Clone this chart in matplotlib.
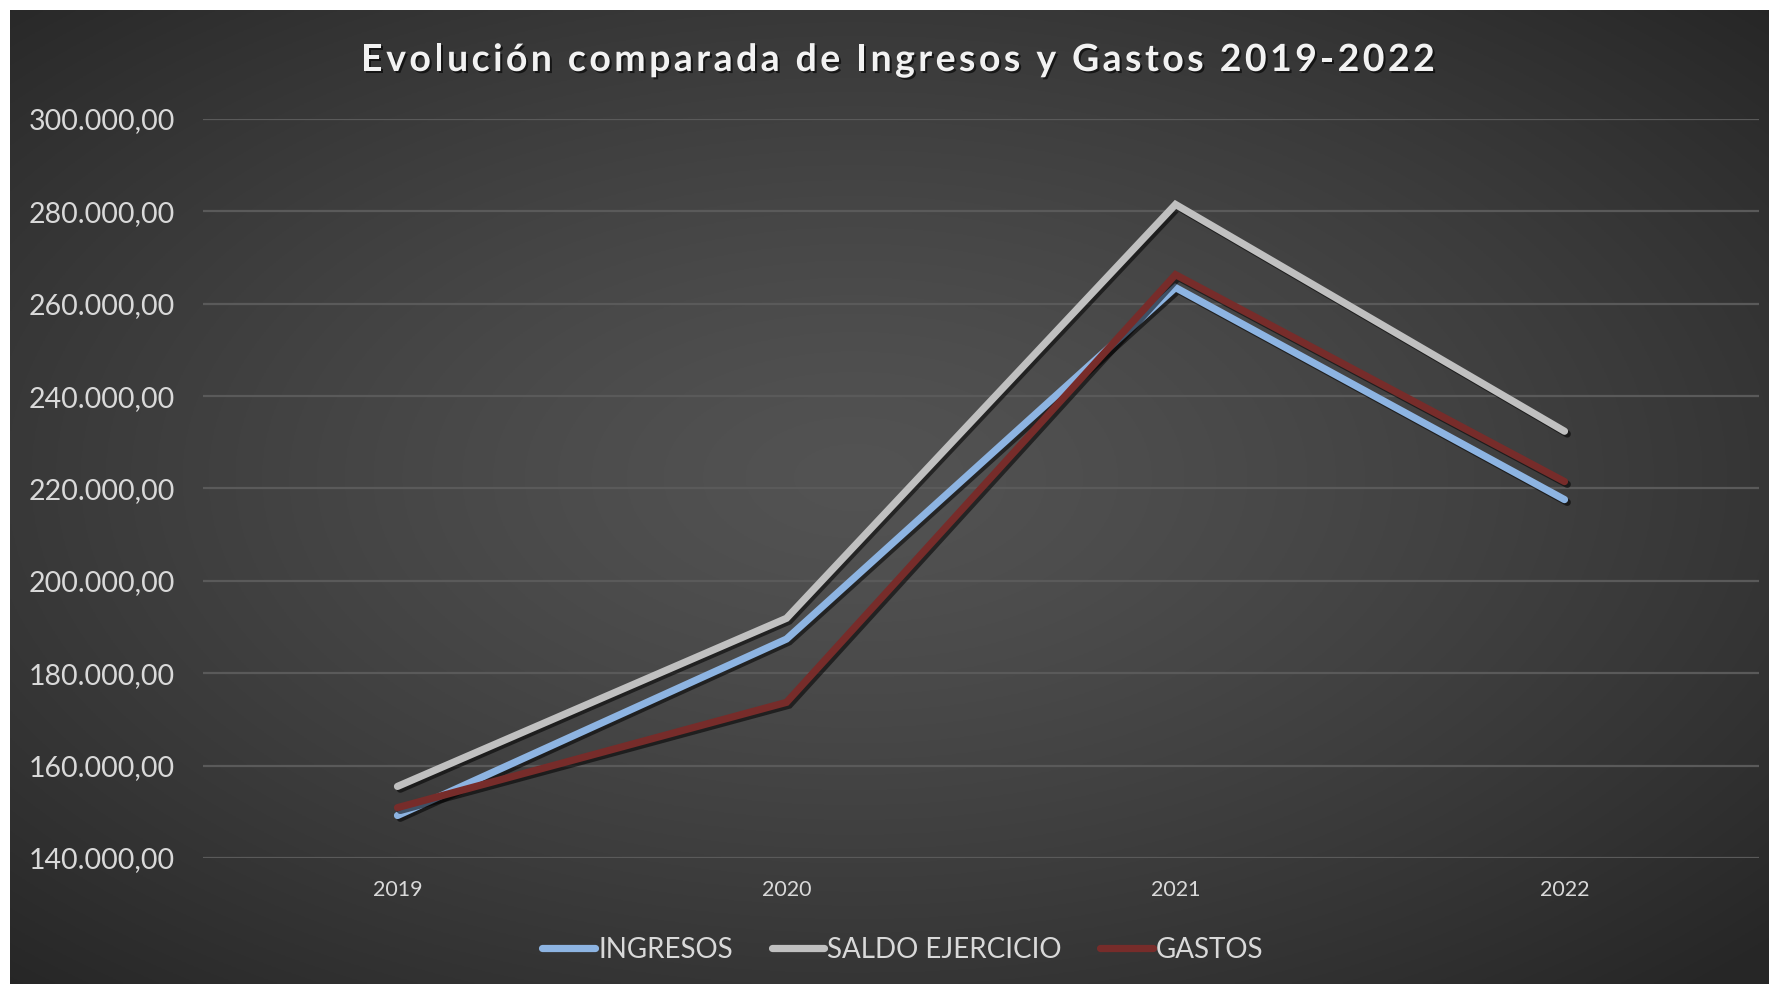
import numpy as np
import matplotlib
matplotlib.use("Agg")
import matplotlib.pyplot as plt
import matplotlib.patheffects as pe
from matplotlib.ticker import FuncFormatter

# datos
years = ["2019", "2020", "2021", "2022"]
ingresos = [149200, 187400, 263500, 217600]
saldo_ejercicio = [155500, 191900, 281500, 232400]
gastos = [150900, 173700, 266300, 221500]
titulo = "Evolución comparada de Ingresos y Gastos 2019-2022"

plt.rcParams['font.family'] = ['Lato', 'DejaVu Sans']

W, H = 1769, 984
fig = plt.figure(figsize=(W / 100, H / 100), dpi=100)
fig.patch.set_facecolor("white")

# fondo con degradado radial (borde blanco arriba e izquierda)
bg = fig.add_axes([10 / W, 0, 1 - 10 / W, 1 - 10 / H])
yy, xx = np.mgrid[0:1:400j, 0:1:700j]
r = np.sqrt(((xx - 0.48) / 0.75) ** 2 + ((yy - 0.52) / 0.75) ** 2)
r = np.clip(r / 0.95, 0, 1)
g = 0.325 - (0.325 - 0.15) * r ** 1.3
img = np.dstack([g, g, g])
bg.imshow(img, aspect="auto", extent=[0, 1, 0, 1], origin="lower")
bg.set_axis_off()

ax = fig.add_axes([203 / W, 1 - 858 / H, (1759 - 203) / W, (858 - 119) / H])
ax.set_facecolor("none")

x = np.arange(len(years))
shadow = [pe.SimpleLineShadow(offset=(2, -2), shadow_color="black", alpha=0.55), pe.Normal()]
ax.plot(x, ingresos, color="#8DB4E2", lw=5.2, solid_capstyle="round",
        solid_joinstyle="miter", label="INGRESOS", path_effects=shadow, zorder=3)
ax.plot(x, saldo_ejercicio, color="#C0C0C0", lw=5.2, solid_capstyle="round",
        solid_joinstyle="miter", label="SALDO EJERCICIO", path_effects=shadow, zorder=3)
ax.plot(x, gastos, color="#772C2A", lw=5.2, solid_capstyle="round",
        solid_joinstyle="miter", label="GASTOS", path_effects=shadow, zorder=4)

ax.set_xlim(-0.5, len(years) - 0.5)
ax.set_ylim(140000, 300000)
ax.set_yticks(np.arange(140000, 300001, 20000))
ax.set_xticks(x)
ax.set_xticklabels(years)


def es_fmt(v, pos):
    s = f"{v:,.2f}"
    return s.replace(",", "X").replace(".", ",").replace("X", ".")


ax.yaxis.set_major_formatter(FuncFormatter(es_fmt))
ax.grid(axis="y", color="#5A5A5A", lw=1.6)
ax.set_axisbelow(True)
for s in ax.spines.values():
    s.set_visible(False)
ax.tick_params(axis="y", length=0, pad=20, labelsize=20.5, labelcolor="#D9D9D9")
ax.tick_params(axis="x", length=0, pad=16, labelsize=15.5, labelcolor="#D9D9D9")

# titulo con espaciado entre letras, caracter a caracter
renderer = fig.canvas.get_renderer()
tprops = dict(fontsize=27, fontweight="bold", color="#F2F2F2", va="center", ha="left",
              path_effects=[pe.withSimplePatchShadow(offset=(1.5, -1.5), shadow_rgbFace="black", alpha=0.6)])
extra = 3.4
widths = []
for ch in titulo:
    if ch == " ":
        t = fig.text(0, 0, "a a", **tprops)
        w_full = t.get_window_extent(renderer).width
        t.set_text("aa")
        w = w_full - t.get_window_extent(renderer).width
    else:
        t = fig.text(0, 0, ch, **tprops)
        w = t.get_window_extent(renderer).width
    t.remove()
    widths.append(w + extra)
total = sum(widths) - extra
xpos = 898 - total / 2
for ch, w in zip(titulo, widths):
    if ch != " ":
        fig.text(xpos / W, 1 - 60 / H, ch, **tprops)
    xpos += w

leg = fig.legend(loc="center", bbox_to_anchor=(903 / W, 1 - 950 / H), ncol=3,
                 frameon=False, fontsize=20, handlelength=1.9, handletextpad=0.1,
                 columnspacing=1.4)
for t in leg.get_texts():
    t.set_color("#D9D9D9")
for h in leg.get_lines():
    h.set_path_effects([])

fig.savefig("out.png", dpi=100, facecolor=fig.get_facecolor())
